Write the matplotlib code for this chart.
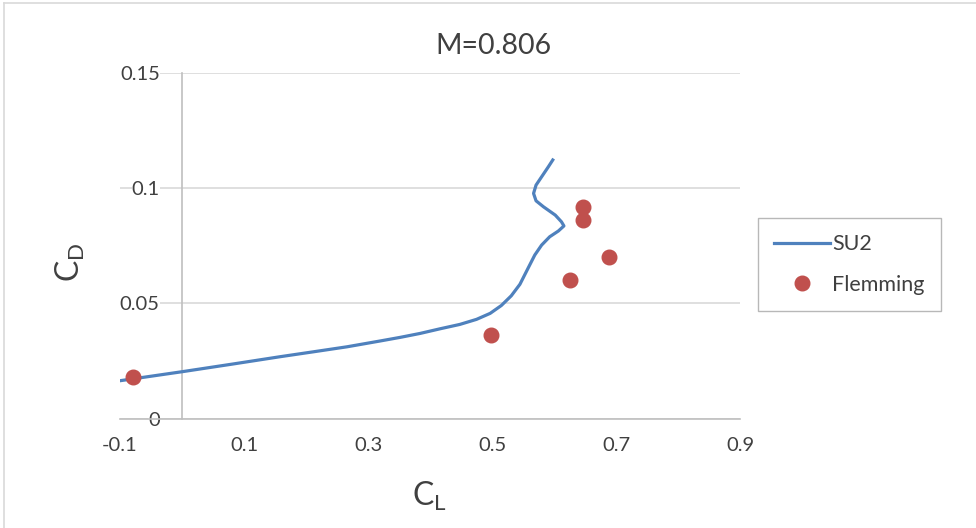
# Drag polar at M=0.806: SU2 against Flemming data
import matplotlib
matplotlib.use("Agg")
import matplotlib.pyplot as plt
from matplotlib.lines import Line2D

plt.rcParams['font.family'] = ['Lato', 'DejaVu Sans']
plt.rcParams['mathtext.fontset'] = 'custom'
plt.rcParams['mathtext.rm'] = 'Lato'

# SU2 curve
su2_cl = [-0.1, 0.0, 0.081, 0.158, 0.211, 0.266, 0.319, 0.352, 0.384, 0.416, 0.448,
          0.475, 0.497, 0.515, 0.531, 0.545, 0.558, 0.569, 0.580, 0.593, 0.607, 0.616,
          0.612, 0.602, 0.583, 0.571, 0.567, 0.571, 0.580, 0.591, 0.598]
su2_cd = [0.0164, 0.0203, 0.0236, 0.0268, 0.0289, 0.0311, 0.0336, 0.0352, 0.0369,
          0.0389, 0.0408, 0.0430, 0.0456, 0.0490, 0.0532, 0.0582, 0.0651, 0.0709,
          0.0752, 0.0788, 0.0813, 0.0835, 0.0853, 0.0882, 0.0918, 0.0944, 0.0976,
          0.1012, 0.1048, 0.1092, 0.1121]

# Flemming experimental points
flem_cl = [-0.079, 0.498, 0.626, 0.647, 0.647, 0.689]
flem_cd = [0.0182, 0.0363, 0.0600, 0.0917, 0.0860, 0.0700]

xticks = [-0.1, 0.1, 0.3, 0.5, 0.7, 0.9]
yticks = [0, 0.05, 0.1, 0.15]

txt = '#404040'
grid = '#D9D9D9'
axcol = '#BFBFBF'

fig = plt.figure(figsize=(9.76, 5.28), dpi=100)
ax = fig.add_axes([0.1230, 0.2073, 0.6352, 0.6553])

ax.plot(su2_cl, su2_cd, color='#4F81BD', lw=2.3, label='SU2', zorder=3,
        solid_joinstyle='round')
ax.plot(flem_cl, flem_cd, 'o', color='#C0504D', ms=10.5, label='Flemming', zorder=4)

ax.set_xlim(-0.1, 0.9)
ax.set_ylim(0, 0.15)
ax.set_xticks(xticks)
ax.set_xticklabels([f'{v:g}' for v in xticks])
ax.set_yticks(yticks)
ax.set_yticklabels([f'{v:g}' for v in yticks])

# Excel-style axes: gridlines only horizontal, axes crossing at (0, 0)
ax.grid(axis='y', color=grid, lw=1.2)
ax.set_axisbelow(True)
for s in ['top', 'right']:
    ax.spines[s].set_visible(False)
ax.spines['left'].set_position(('data', 0))
ax.spines['bottom'].set_position(('data', 0))
ax.spines['left'].set_color(axcol)
ax.spines['bottom'].set_color(axcol)
ax.spines['left'].set_linewidth(1.2)
ax.spines['bottom'].set_linewidth(1.2)
ax.tick_params(axis='y', length=0, pad=16, labelsize=14.5, labelcolor=txt)
ax.tick_params(axis='x', length=0, pad=13, labelsize=14.5, labelcolor=txt)
for lab in ax.get_yticklabels():
    lab.set_bbox(dict(facecolor='white', edgecolor='none', pad=0))

fig.text(0.506, 0.913, 'M=0.806', ha='center', va='center', fontsize=20.5, color=txt)
fig.text(0.072, 0.503, r'C$_\mathregular{D}$', rotation=90, ha='center', va='center',
         fontsize=23, color=txt)
fig.text(0.44, 0.06, r'C$_\mathregular{L}$', ha='center', va='center',
         fontsize=23, color=txt)

leg = fig.legend(loc='upper left', bbox_to_anchor=(0.7766, 0.587), fontsize=15.5,
                 frameon=True, fancybox=False, edgecolor='#A6A6A6', handlelength=2.6,
                 borderpad=0.75, labelspacing=0.95, handletextpad=0.1, borderaxespad=0)
for t in leg.get_texts():
    t.set_color(txt)
leg.get_frame().set_linewidth(1.0)

# chart area frame (left and top edges visible)
fig.add_artist(Line2D([4 / 976, 4 / 976], [0, 1 - 3 / 528], color=grid, lw=1.2,
                      transform=fig.transFigure))
fig.add_artist(Line2D([4 / 976, 1], [1 - 3 / 528, 1 - 3 / 528], color=grid, lw=1.2,
                      transform=fig.transFigure))

fig.savefig('out.png', dpi=100)
